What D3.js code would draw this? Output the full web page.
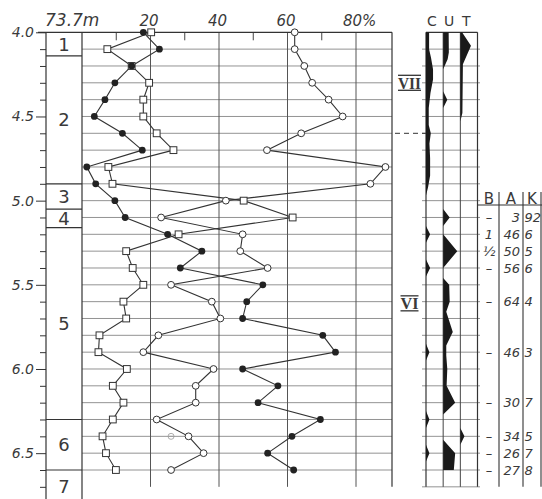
<!DOCTYPE html>
<meta charset="utf-8">
<style>
body{margin:0;background:#fff}
text{font-family:"DejaVu Sans",sans-serif;fill:#3a3a3a}
.hand{font-style:italic}
.grid line{stroke:#777;stroke-width:0.8px}
.frame line{stroke:#333;stroke-width:1.2px}
.series path{fill:none;stroke:#333;stroke-width:1.1px}
</style>
<svg width="542" height="499"></svg>
<script src="https://d3js.org/d3.v7.min.js"></script>
<script>
// sample depths (m), one per grid line
var depths = [4.0, 4.1, 4.2, 4.3, 4.4, 4.5, 4.6, 4.7, 4.8, 4.9,
              5.0, 5.1, 5.2, 5.3, 5.4, 5.5, 5.6, 5.7, 5.8, 5.9,
              6.0, 6.1, 6.2, 6.3, 6.4, 6.5, 6.6];

// percentages
var filledDots = [17.9, 22.6, 14.5, 9.6, 6.7, 3.6, 11.8, 17.6, 1.4, 4.0,
                  9.6, 12.6, 25, 35, 28.7, 52.8, 48.1, 46.9, 70.3, 74,
                  46.9, 57.2, 51.4, 69.6, 61.3, 54.2, 61.8];
var squares = [20.2, 7.4, 14.5, 19.6, 17.9, 17.9, 21.8, 26.7, 7.7, 8.9,
               47.2, 61.5, 28.2, 12.9, 14.8, 17.9, 12.1, 12.9, 5.1, 4.8,
               13.1, 9, 12.1, 9, 6, 7, 9.9];
var openDots = [62.1, 62.1, 64.9, 67.2, 72, 76.1, 64, 54, 88.6, 84.2,
                42, 23.1, 46.9, 46.2, 54.2, 26, 37.9, 40.4, 22.3, 17.9,
                38.4, 33.2, 33.2, 21.8, 31.1, 35.5, 26];
var strayDepth = 6.4, strayValue = 26;

// stratigraphic units
var unitBounds = [4.0, 4.14, 4.9, 5.05, 5.16, 6.3, 6.6, 6.8];
var unitLabels = ["1", "2", "3", "4", "5", "6", "7"];

// pollen zones
var zoneLabels = ["VII", "VI"];
var zoneDepths = [4.3, 5.61];
var zoneBoundary = 4.6;

// C U T silhouettes: [depth, value] (10 = full column)
var cutCols = ["C", "U", "T"];
var cProfile = [[4.0,1.8],[4.1,1.8],[4.15,2.9],[4.22,4.1],[4.28,4.1],[4.36,2.6],[4.45,1.6],[4.55,1.6],
  [4.6,2.8],[4.66,2.0],[4.75,2.4],[4.85,2.4],[4.92,1.2],[4.97,0],[5.15,0],[5.2,2.4],[5.25,0],
  [5.35,0],[5.4,2.4],[5.45,0],[5.85,0],[5.9,2],[5.95,0],[6.25,0],[6.3,2],[6.35,0],[6.45,0],[6.5,2],[6.55,0]];
var uProfile = [[4.0,3.2],[4.12,3.3],[4.16,2.6],[4.22,0],[4.35,0],[4.4,2.4],[4.45,0],[5.05,0],[5.1,3.8],
  [5.15,0],[5.2,0],[5.3,8.2],[5.4,0],[5.46,0],[5.5,3.5],[5.6,3.8],[5.66,1.8],[5.78,5.6],[5.86,1.8],
  [5.92,1.8],[6.0,2.4],[6.1,2.0],[6.2,7],[6.27,0],[6.42,0],[6.5,7],[6.6,6.2],[6.6,0]];
var tProfile = [[4.0,1.0],[4.08,6.2],[4.19,1.5],[4.48,1.2],[4.53,0],[6.35,0],[6.4,2.4],[6.45,0]];

// B A K table
var tableCols = ["B", "A", "K"];
var tableDepths = [5.1, 5.2, 5.3, 5.4, 5.6, 5.9, 6.2, 6.4, 6.5, 6.6];
var colB = ["–", "1", "½", "–", "–", "–", "–", "–", "–", "–"];
var colA = [3, 46, 50, 56, 64, 46, 30, 34, 26, 27];
var colK = [92, 6, 5, 6, 4, 3, 7, 5, 7, 8];

var xLabels = [20, 40, 60, 80];
var xMinor = [10, 30, 50, 70];
var depthLabels = [4.0, 4.5, 5.0, 5.5, 6.0, 6.5];
var depthTicks = [4.0,4.1,4.2,4.3,4.4,4.5,4.6,4.7,4.8,4.9,5.0,5.1,5.2,5.3,5.4,5.5,5.6,5.7,5.8,5.9,
                  6.0,6.1,6.2,6.3,6.4,6.5,6.6,6.7];

var svg = d3.select("svg");
var y = d3.scaleLinear().domain([4.0, 6.6]).range([32.3, 470]);
var x = d3.scaleLinear().domain([0, 80]).range([82, 356]);
var litL = 46, plotL = 82, plotR = 392, zoneR = 426, bottom = y(6.7);
var cutX = d3.scaleBand().domain(cutCols).range([426, 477.5]);
var cutW = d3.scaleLinear().domain([0, 10]).range([0, cutX.bandwidth()]);
var tableEdges = [479, 499, 523, 541];

// horizontal grid
var grid = svg.append("g").attr("class", "grid");
grid.selectAll(".h").data(depths.slice(1)).join("line")
  .attr("x1", plotL).attr("x2", plotR)
  .attr("y1", d => y(d)).attr("y2", d => y(d));
grid.selectAll(".hc").data(depths.slice(1).concat([6.7])).join("line").attr("class", "hc")
  .attr("x1", 422).attr("x2", 480)
  .attr("y1", d => y(d)).attr("y2", d => y(d));
grid.selectAll(".v").data(xLabels).join("line").attr("class", "v")
  .attr("x1", d => x(d)).attr("x2", d => x(d))
  .attr("y1", y(4.0)).attr("y2", bottom)
  .style("stroke", "#555").style("stroke-width", "1px");
grid.selectAll(".tk").data(xMinor).join("line").attr("class", "tk")
  .attr("x1", d => x(d)).attr("x2", d => x(d))
  .attr("y1", y(4.0)).attr("y2", y(4.0) + 8)
  .style("stroke", "#444").style("stroke-width", "1px");
grid.selectAll(".cv").data(cutCols.slice(1)).join("line").attr("class", "cv")
  .attr("x1", d => cutX(d)).attr("x2", d => cutX(d))
  .attr("y1", y(4.0)).attr("y2", bottom)
  .style("stroke", "#444").style("stroke-width", "1px");

// frame
var frame = svg.append("g").attr("class", "frame");
[[38, plotR, y(4.0), y(4.0)], [zoneR, 477.5, y(4.0), y(4.0)],
 [litL, litL, y(4.0), 499], [plotL, plotL, y(4.0), 499],
 [plotR, plotR, y(4.0), bottom], [zoneR, zoneR, y(4.0), bottom], [477.5, 477.5, y(4.0), bottom]
].forEach(function(s) {
  frame.append("line").attr("x1", s[0]).attr("x2", s[1]).attr("y1", s[2]).attr("y2", s[3]);
});
frame.selectAll(".ub").data(unitBounds.slice(1, -1)).join("line").attr("class", "ub")
  .attr("x1", litL).attr("x2", plotL).attr("y1", d => y(d)).attr("y2", d => y(d));

// depth axis
var axis = svg.append("g").attr("transform", "translate(" + litL + ",0)")
  .call(d3.axisLeft(y).tickValues(depthTicks).tickSize(6)
    .tickFormat(d => depthLabels.some(v => Math.abs(v - d) < 1e-6) ? d.toFixed(1) : ""));
axis.select(".domain").remove();
axis.selectAll("line").attr("stroke", "#333");
axis.selectAll(".tick").filter(d => depthLabels.some(v => Math.abs(v - d) < 1e-6))
  .select("line").attr("x2", -10);
axis.selectAll("text").attr("x", -12).attr("class", "hand")
  .style("font-size", "14px").style("font-family", "DejaVu Sans").attr("fill", "#3a3a3a");

// top labels
svg.append("text").attr("class", "hand").attr("x", 45).attr("y", 26)
  .style("font-size", "17px").text("73.7m");
svg.selectAll(".xl").data(xLabels).join("text").attr("class", "hand xl")
  .attr("x", d => d === 80 ? x(d) - 13 : x(d) - 1.5).attr("y", 26)
  .attr("text-anchor", d => d === 80 ? "start" : "middle")
  .style("font-size", "15px").text(d => d === 80 ? d + "%" : d);

// unit labels
svg.selectAll(".ul").data(unitLabels).join("text").attr("class", "ul")
  .attr("x", (litL + plotL) / 2).attr("text-anchor", "middle")
  .attr("y", (d, i) => (y(unitBounds[i]) + y(Math.min(unitBounds[i + 1], 6.8))) / 2)
  .attr("dy", "0.36em").style("font-size", "18px").text(d => d);

// series
var series = [filledDots, squares, openDots];
var line = d3.line().x(d => x(d[1])).y(d => y(d[0]));
svg.append("g").attr("class", "series").selectAll("path").data(series).join("path")
  .attr("d", s => line(depths.map((dp, i) => [dp, s[i]])));

var m = svg.append("g");
m.selectAll(".sq").data(squares).join("rect")
  .attr("x", d => x(d) - 3.4).attr("y", (d, i) => y(depths[i]) - 3.4)
  .attr("width", 6.8).attr("height", 6.8)
  .attr("fill", "#fff").attr("stroke", "#333").attr("stroke-width", 1);
m.selectAll(".oc").data(openDots).join("circle").attr("class", "oc")
  .attr("cx", d => x(d)).attr("cy", (d, i) => y(depths[i])).attr("r", 3.4)
  .attr("fill", "#fff").attr("stroke", "#333").attr("stroke-width", 1);
m.selectAll(".fc").data(filledDots).join("circle").attr("class", "fc")
  .attr("cx", d => x(d)).attr("cy", (d, i) => y(depths[i])).attr("r", 3.4)
  .attr("fill", "#222");
m.append("circle").attr("cx", x(strayValue)).attr("cy", y(strayDepth)).attr("r", 3)
  .attr("fill", "none").attr("stroke", "#999").attr("stroke-width", 0.8);
m.append("line").attr("x1", x(strayValue) - 2).attr("x2", x(strayValue) + 2)
  .attr("y1", y(strayDepth)).attr("y2", y(strayDepth)).attr("stroke", "#999").attr("stroke-width", 0.8);

// zones
var zoneX = (plotR + zoneR) / 2 + 0.5;
zoneLabels.forEach(function(z, i) {
  var cy = y(zoneDepths[i]);
  var w = z.length === 3 ? 23 : 18;
  svg.append("text").attr("x", zoneX).attr("y", cy).attr("dy", "0.36em")
    .attr("text-anchor", "middle").attr("textLength", w).attr("lengthAdjust", "spacingAndGlyphs")
    .style("font-family", "Liberation Serif").style("font-weight", "bold").style("font-size", "17px")
    .text(z);
  [-7.5, 7.5].forEach(function(o) {
    svg.append("line").attr("x1", zoneX - w / 2).attr("x2", zoneX + w / 2)
      .attr("y1", cy + o).attr("y2", cy + o).attr("stroke", "#333").attr("stroke-width", 1.3);
  });
});
svg.append("line").attr("x1", 395).attr("x2", zoneR).attr("y1", y(zoneBoundary)).attr("y2", y(zoneBoundary))
  .attr("stroke", "#333").attr("stroke-width", 1).attr("stroke-dasharray", "5,4");

// C U T silhouettes
var profiles = [cProfile, uProfile, tProfile];
profiles.forEach(function(p, i) {
  var left = cutX(cutCols[i]);
  svg.append("path")
    .attr("d", d3.area().y(d => y(d[0])).x0(left).x1(d => left + cutW(d[1]))(p))
    .attr("fill", "#1a1a1a");
});
svg.selectAll(".cl").data(cutCols).join("text").attr("class", "cl")
  .attr("x", d => cutX(d) + 6).attr("y", 26).attr("text-anchor", "middle")
  .style("font-size", "14px").text(d => d);

// table
var tb = svg.append("g");
tableEdges.slice(1).forEach(function(ex) {
  tb.append("line").attr("x1", ex).attr("x2", ex).attr("y1", 192).attr("y2", bottom)
    .attr("stroke", "#333").attr("stroke-width", 1.1);
});
tb.append("line").attr("x1", 477.5).attr("x2", 542).attr("y1", 205).attr("y2", 205)
  .attr("stroke", "#333").attr("stroke-width", 1.1);
tb.selectAll(".th").data(tableCols).join("text").attr("class", "th")
  .attr("x", (d, i) => (tableEdges[i] + tableEdges[i + 1]) / 2).attr("y", 199).attr("dy", "0.36em")
  .attr("text-anchor", "middle").style("font-size", "15px").text(d => d);
tb.selectAll(".tbB").data(colB).join("text").attr("class", "hand tbB")
  .attr("x", 489).attr("y", (d, i) => y(tableDepths[i])).attr("dy", "0.36em")
  .attr("text-anchor", "middle").style("font-size", "13px").text(d => d);
tb.selectAll(".tbA").data(colA).join("text").attr("class", "hand tbA")
  .attr("x", 520).attr("y", (d, i) => y(tableDepths[i])).attr("dy", "0.36em")
  .attr("text-anchor", "end").style("font-size", "13px").text(d => d);
tb.selectAll(".tbK").data(colK).join("text").attr("class", "hand tbK")
  .attr("x", 524.5).attr("y", (d, i) => y(tableDepths[i])).attr("dy", "0.36em")
  .attr("text-anchor", "start").style("font-size", "13px").text(d => d);
</script>
